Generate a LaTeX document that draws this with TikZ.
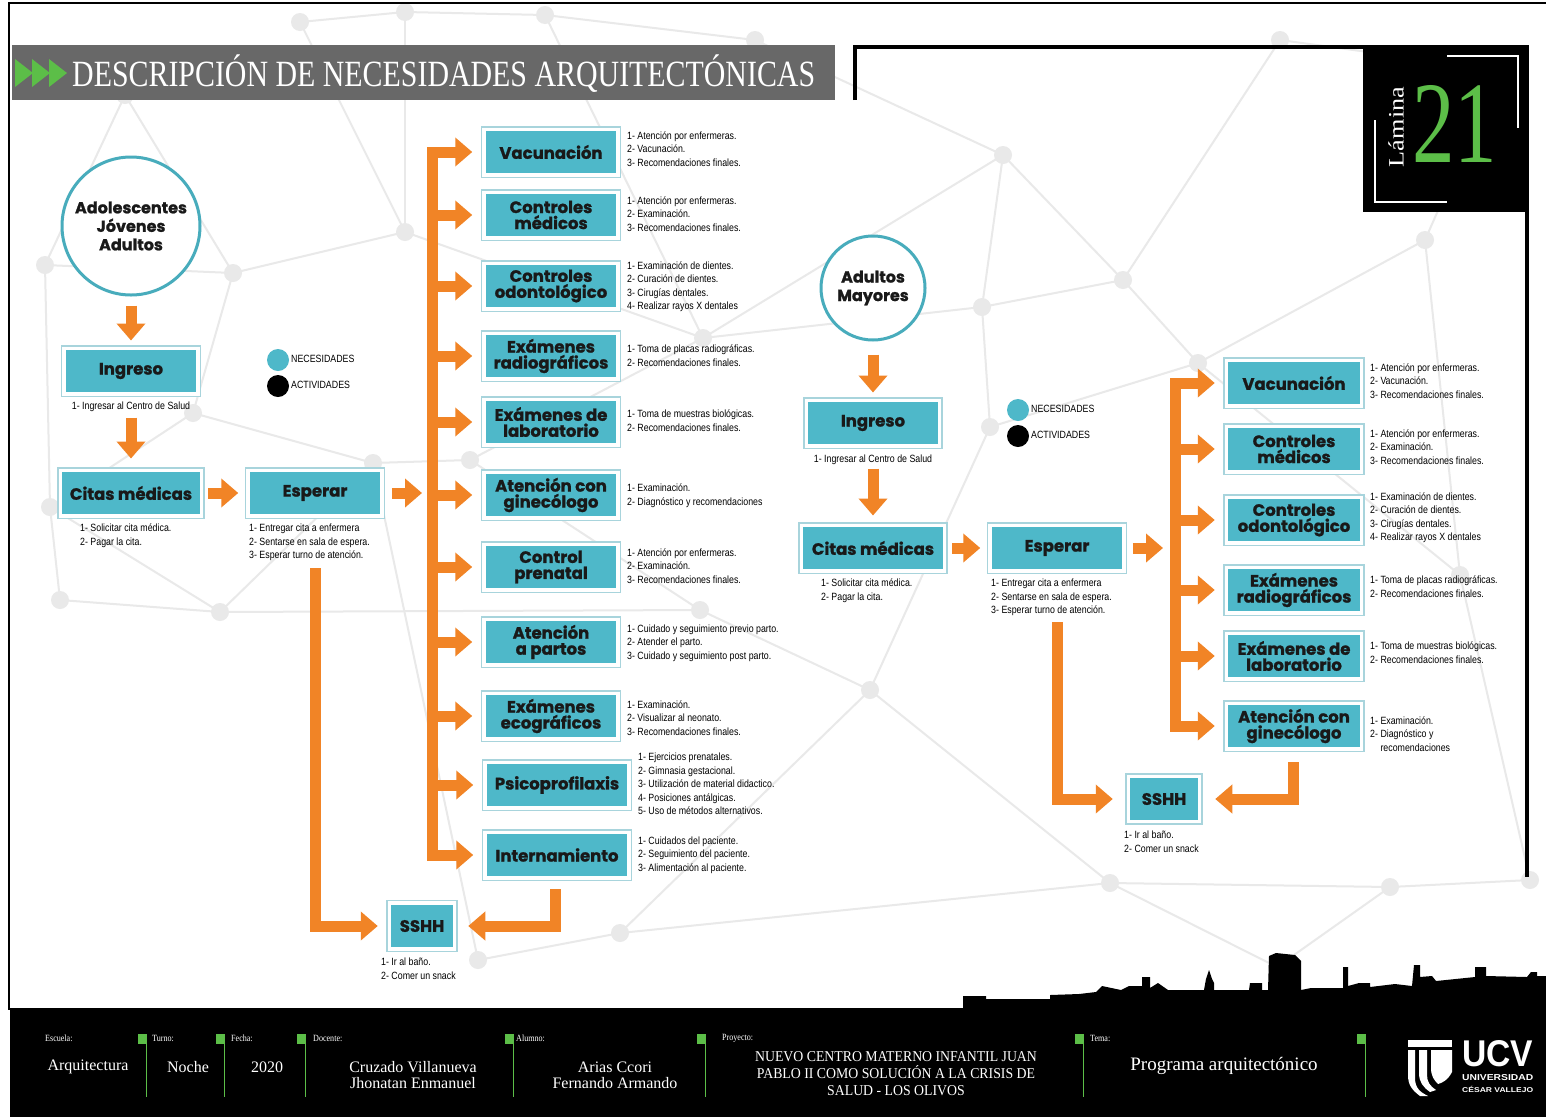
\documentclass[tikz,border=0pt]{standalone}
\usepackage{fontspec}
\usepackage{graphicx}
\setmainfont{Liberation Serif}
\newfontfamily\boxfont{Poppins}[BoldFeatures={FakeBold=1.2}]
\newfontfamily\narrowfont{Liberation Sans}
\usetikzlibrary{arrows.meta}

\definecolor{cteal}{RGB}{78,184,201}
\definecolor{cedge}{RGB}{168,212,220}
\definecolor{corange}{RGB}{241,132,38}
\definecolor{cring}{RGB}{72,172,188}
\definecolor{cgreen}{RGB}{92,190,72}
\definecolor{cnet}{RGB}{233,233,233}
\definecolor{cbar}{RGB}{104,104,104}

% small condensed item lists
\newcommand\items[1]{\scalebox{0.84}[1]{\narrowfont\fontsize{10.5}{13.5}\selectfont\begin{tabular}{@{}l@{}}#1\end{tabular}}}
\newcommand\itemsc[1]{\scalebox{0.84}[1]{\narrowfont\fontsize{10.5}{13.5}\selectfont\begin{tabular}{@{}c@{}}#1\end{tabular}}}
\newcommand\foottag[1]{\scalebox{0.85}[1]{\fontsize{9.5}{9.5}\selectfont #1}}

\tikzset{
  need/.style={rectangle, fill=cteal, draw=white, line width=3.5pt,
    preaction={draw=cedge, line width=6.5pt}, inner sep=0pt,
    minimum height=45.5pt, minimum width=#1, text=black!90,
    font=\boxfont\bfseries\fontsize{16.5}{16}\selectfont, align=center},
  need/.default=134pt,
  who/.style={circle, draw=cring, line width=3pt, fill=white, inner sep=0pt, text=black!90,
    font=\boxfont\bfseries\fontsize{16}{18.5}\selectfont, align=center},
  flow/.style={draw=corange, line width=11pt, -{Triangle[width=28pt,length=17pt]}},
  list/.style={inner sep=0pt, anchor=west},
  listnw/.style={inner sep=0pt, anchor=north west},
  netline/.style={draw=cnet, line width=2pt},
  netdot/.style={fill=cnet},
  dotkey/.style={circle, minimum size=22pt, inner sep=0pt},
}

\begin{document}
\begin{tikzpicture}[x=1pt,y=-1pt]
\useasboundingbox (0,0) rectangle (1546,1117);
\fill[white] (0,0) rectangle (1546,1117);

% ---------- background network ----------
\coordinate (nA) at (45,265);   \coordinate (nB) at (233,273);
\coordinate (nC) at (405,232);  \coordinate (nD) at (193,413);
\coordinate (nE) at (373,463);  \coordinate (nF) at (50,507);
\coordinate (nG) at (220,612);  \coordinate (nH) at (125,95);
\coordinate (nI) at (703,338);  \coordinate (nJ) at (545,15);
\coordinate (nK) at (405,12);   \coordinate (nL) at (300,22);
\coordinate (nM) at (982,307);  \coordinate (nN) at (1123,280);
\coordinate (nO) at (990,427);  \coordinate (nP) at (1198,363);
\coordinate (nQ) at (1003,155); \coordinate (nR) at (620,933);
\coordinate (nS) at (478,960);  \coordinate (nT) at (1110,883);
\coordinate (nU) at (1277,967); \coordinate (nV) at (1390,887);
\coordinate (nW) at (1530,880); \coordinate (nX) at (470,460);
\coordinate (nY) at (1280,40);  \coordinate (nZ) at (1500,70);
\coordinate (nAA) at (1460,575);\coordinate (nBB) at (60,600);
\coordinate (nDD) at (870,690); \coordinate (nEE) at (1425,240);
\coordinate (nFF) at (700,610); \coordinate (nHH) at (755,40);
\foreach \a/\b in {nH/nA,nH/nB,nA/nB,nA/nF,nB/nC,nB/nD,nC/nL,nC/nK,nC/nI,nD/nE,
  nD/nF,nE/nX,nE/nG,nF/nG,nF/nBB,nG/nBB,nX/nI,nI/nJ,nI/nQ,nI/nM,nJ/nK,nK/nL,
  nJ/nHH,nHH/nQ,nQ/nM,nQ/nN,nM/nN,nM/nO,nN/nP,nN/nY,nO/nP,nO/nDD,nP/nEE,nP/nAA,
  nY/nZ,nZ/nEE,nEE/nAA,nAA/nW,nDD/nFF,nFF/nX,nDD/nT,nDD/nR,nR/nS,nR/nT,nT/nU,
  nT/nV,nU/nV,nV/nW,nS/nE,nFF/nG}
  \draw[netline] (\a) -- (\b);
\foreach \p in {nA,nB,nC,nD,nE,nF,nG,nH,nI,nJ,nK,nL,nM,nN,nO,nP,nQ,nR,nS,nT,nU,
  nV,nW,nX,nY,nZ,nAA,nBB,nDD,nEE,nFF,nHH}
  \fill[netdot] (\p) circle (9);

% ---------- page frame ----------
\draw[line width=2.5pt] (1546,3) -- (9,3) -- (9,1010);
\draw[line width=4pt] (855,100) -- (855,47) -- (1527,47) -- (1527,877);

% ---------- title bar ----------
\fill[cbar] (12,45) rectangle (835,100);
\foreach \i in {0,1,2}
  \fill[cgreen] (15+17*\i,59) -- (33+17*\i,73) -- (15+17*\i,87) -- cycle;
\node[anchor=base west, inner sep=0pt, text=white] (title) at (72,86)
  {\resizebox{743pt}{\height}{\fontsize{37}{37}\selectfont DESCRIPCIÓN DE NECESIDADES ARQUITECTÓNICAS}};

% ---------- sheet number ----------
\fill[black] (1363,45) rectangle (1529,212);
\draw[white, line width=1.5pt] (1447,56) -- (1518,56) -- (1518,128);
\draw[white, line width=1.5pt] (1375,120) -- (1375,202) -- (1447,202);
\node[rotate=90, text=white, inner sep=0pt] (lam) at (1396,127)
  {\resizebox{80pt}{\height}{\fontsize{22}{22}\selectfont Lámina}};
\node[anchor=base west, text=cgreen, inner sep=0pt] (num) at (1412,162)
  {\resizebox{85pt}{77pt}{21}};

% ================= left flow =================
\node[who, minimum size=138pt] (c1) at (131,226) {Adolescentes\\Jóvenes\\Adultos};
\node[need] (in1) at (131,371) {Ingreso};
\node[inner sep=0pt] (in1t) at (131,407) {\itemsc{1- Ingresar al Centro de Salud}};
\node[need=141pt] (ci1) at (131,493) {Citas médicas};
\node[listnw] (ci1t) at (80,522) {\items{1- Solicitar cita médica.\\2- Pagar la cita.}};
\node[need] (es1) at (315,493) {Esperar};
\node[listnw] (es1t) at (249,522) {\items{1- Entregar cita a enfermera\\2- Sentarse en sala de espera.\\3- Esperar turno de atención.}};

\node[dotkey, fill=cteal] (k1) at (278,360) {};
\node[list] (k1t) at (291,360) {\items{NECESIDADES}};
\node[dotkey, fill=black] (k2) at (278,386) {};
\node[list] (k2t) at (291,386) {\items{ACTIVIDADES}};

% middle column of needs
\node[need] (m1) at (551,152) {Vacunación};
\node[need] (m2) at (551,215) {Controles\\médicos};
\node[need] (m3) at (551,286) {Controles\\odontológico};
\node[need] (m4) at (551,356) {Exámenes\\radiográficos};
\node[need] (m5) at (551,422) {Exámenes de\\laboratorio};
\node[need] (m6) at (551,495) {Atención con\\ginecólogo};
\node[need] (m7) at (551,567) {Control\\prenatal};
\node[need] (m8) at (551,642) {Atención\\a partos};
\node[need] (m9) at (551,716) {Exámenes\\ecográficos};
\node[need=144pt] (m10) at (557,785) {Psicoprofilaxis};
\node[need=144pt] (m11) at (557,855) {Internamiento};

\node[list] (m1t) at (627,150) {\items{1- Atención por enfermeras.\\2- Vacunación.\\3- Recomendaciones finales.}};
\node[list] (m2t) at (627,215) {\items{1- Atención por enfermeras.\\2- Examinación.\\3- Recomendaciones finales.}};
\node[list] (m3t) at (627,287) {\items{1- Examinación de dientes.\\2- Curación de dientes.\\3- Cirugías dentales.\\4- Realizar rayos X dentales}};
\node[list] (m4t) at (627,357) {\items{1- Toma de placas radiográficas.\\2- Recomendaciones finales.}};
\node[list] (m5t) at (627,422) {\items{1- Toma de muestras biológicas.\\2- Recomendaciones finales.}};
\node[list] (m6t) at (627,496) {\items{1- Examinación.\\2- Diagnóstico y recomendaciones}};
\node[list] (m7t) at (627,567) {\items{1- Atención por enfermeras.\\2- Examinación.\\3- Recomendaciones finales.}};
\node[list] (m8t) at (627,643) {\items{1- Cuidado y seguimiento previo parto.\\2- Atender el parto.\\3- Cuidado y seguimiento post parto.}};
\node[list] (m9t) at (627,719) {\items{1- Examinación.\\2- Visualizar al neonato.\\3- Recomendaciones finales.}};
\node[list] (m10t) at (638,785) {\items{1- Ejercicios prenatales.\\2- Gimnasia gestacional.\\3- Utilización de material didactico.\\4- Posiciones antálgicas.\\5- Uso de métodos alternativos.}};
\node[list] (m11t) at (638,855) {\items{1- Cuidados del paciente.\\2- Seguimiento del paciente.\\3- Alimentación al paciente.}};

\node[need=65pt, minimum height=46pt] (s1) at (422,926) {SSHH};
\node[listnw] (s1t) at (381,956) {\items{1- Ir al baño.\\2- Comer un snack}};

% connectors, left flow
\coordinate (mtop) at (432,152);
\coordinate (mbot) at (432,855);
\draw[flow, shorten <=9pt, shorten >=6pt] (c1) -- (in1);
\draw[flow, shorten <=22pt, shorten >=10pt] (in1) -- (ci1);
\draw[flow, shorten <=5pt, shorten >=8pt] (ci1) -- (es1);
\draw[flow, shorten <=8pt, shorten >=10pt] (es1) -- (mtop |- es1);
\draw[flow, shorten >=10pt] (mbot) -- (mtop) -- (m1);
\draw[flow, shorten >=10pt] (mtop) -- (mbot) -- (m11);
\foreach \m in {m2,m3,m4,m5,m6,m7,m8,m9,m10}
  \draw[flow, shorten >=10pt] (mtop |- \m) -- (\m);
\coordinate (e1d) at (315,568);
\coordinate (i1d) at (555,889);
\draw[flow, shorten >=10pt] (e1d) -- (e1d |- s1) -- (s1);
\draw[flow, shorten >=12pt] (i1d) -- (i1d |- s1) -- (s1);

% ================= right flow =================
\node[who, minimum size=104pt] (c2) at (873,288) {Adultos\\Mayores};
\node[need=133pt] (in2) at (873,423) {Ingreso};
\node[inner sep=0pt] (in2t) at (873,460) {\itemsc{1- Ingresar al Centro de Salud}};
\node[need=143pt] (ci2) at (873,548) {Citas médicas};
\node[listnw] (ci2t) at (821,577) {\items{1- Solicitar cita médica.\\2- Pagar la cita.}};
\node[need] (es2) at (1057,548) {Esperar};
\node[listnw] (es2t) at (991,577) {\items{1- Entregar cita a enfermera\\2- Sentarse en sala de espera.\\3- Esperar turno de atención.}};

\node[dotkey, fill=cteal] (k3) at (1018,410) {};
\node[list] (k3t) at (1031,410) {\items{NECESIDADES}};
\node[dotkey, fill=black] (k4) at (1018,436) {};
\node[list] (k4t) at (1031,436) {\items{ACTIVIDADES}};

\node[need=135pt] (r1) at (1294,383) {Vacunación};
\node[need=135pt] (r2) at (1294,449) {Controles\\médicos};
\node[need=135pt] (r3) at (1294,520) {Controles\\odontológico};
\node[need=135pt] (r4) at (1294,590) {Exámenes\\radiográficos};
\node[need=135pt] (r5) at (1294,656) {Exámenes de\\laboratorio};
\node[need=135pt] (r6) at (1294,726) {Atención con\\ginecólogo};

\node[list] (r1t) at (1370,382) {\items{1- Atención por enfermeras.\\2- Vacunación.\\3- Recomendaciones finales.}};
\node[list] (r2t) at (1370,448) {\items{1- Atención por enfermeras.\\2- Examinación.\\3- Recomendaciones finales.}};
\node[list] (r3t) at (1370,518) {\items{1- Examinación de dientes.\\2- Curación de dientes.\\3- Cirugías dentales.\\4- Realizar rayos X dentales}};
\node[list] (r4t) at (1370,588) {\items{1- Toma de placas radiográficas.\\2- Recomendaciones finales.}};
\node[list] (r5t) at (1370,654) {\items{1- Toma de muestras biológicas.\\2- Recomendaciones finales.}};
\node[list] (r6t) at (1370,735) {\items{1- Examinación.\\2- Diagnóstico y\\\phantom{2- }recomendaciones}};

\node[need=71pt, minimum height=45pt] (s2) at (1164,799) {SSHH};
\node[listnw] (s2t) at (1124,829) {\items{1- Ir al baño.\\2- Comer un snack}};

% connectors, right flow
\coordinate (rtop) at (1175,383);
\coordinate (rbot) at (1175,726);
\draw[flow, shorten <=13pt, shorten >=6pt] (c2) -- (in2);
\draw[flow, shorten <=21pt, shorten >=8pt] (in2) -- (ci2);
\draw[flow, shorten <=6pt, shorten >=8pt] (ci2) -- (es2);
\draw[flow, shorten <=7pt, shorten >=12pt] (es2) -- (rtop |- es2);
\draw[flow, shorten >=10pt] (rbot) -- (rtop) -- (r1);
\draw[flow, shorten >=10pt] (rtop) -- (rbot) -- (r6);
\foreach \r in {r2,r3,r4,r5}
  \draw[flow, shorten >=10pt] (rtop |- \r) -- (\r);
\coordinate (e2d) at (1057,622);
\coordinate (g2d) at (1293,762);
\draw[flow, shorten >=14pt] (e2d) -- (e2d |- s2) -- (s2);
\draw[flow, shorten >=14pt] (g2d) -- (g2d |- s2) -- (s2);

% ---------- skyline ----------
\fill[black] (963,1010) -- (963,996) -- (986,996) -- (986,999) -- (1050,999) -- (1050,995)
  -- (1079,994) -- (1096,992) -- (1102,986) -- (1121,990) -- (1129,986) -- (1142,986)
  -- (1142,977) -- (1150,977) -- (1150,988) -- (1158,983) -- (1168,990) -- (1204,990)
  -- (1206,979) -- (1209,970) -- (1212,979) -- (1214,983) -- (1214,990) -- (1249,990)
  -- (1250,983) -- (1262,983) -- (1262,990) -- (1268,990) -- (1269,956) -- (1276,953)
  -- (1295,955) -- (1301,961) -- (1301,990) -- (1311,988) -- (1343,988) -- (1343,967)
  -- (1348,967) -- (1348,986) -- (1359,983) -- (1370,983) -- (1370,987) -- (1395,984)
  -- (1412,986) -- (1414,965) -- (1420,965) -- (1420,977) -- (1432,976) -- (1436,981)
  -- (1475,977) -- (1475,967) -- (1486,967) -- (1486,976) -- (1527,977) -- (1531,972)
  -- (1537,972) -- (1537,976) -- (1546,976) -- (1546,1010) -- cycle;

% ---------- footer ----------
\fill[black] (10,1008) rectangle (1546,1117);
\foreach \x in {138,216,297,505,697,1075,1357}{
  \fill[cgreen] (\x,1034) rectangle (\x+9,1044);
  \draw[cgreen, line width=1pt] (\x+8.5,1044) -- (\x+8.5,1097);
}
\node[anchor=west, inner sep=0pt, text=white] (f1) at (45,1038) {\foottag{Escuela:}};
\node[anchor=west, inner sep=0pt, text=white] (f2) at (152,1038) {\foottag{Turno:}};
\node[anchor=west, inner sep=0pt, text=white] (f3) at (231,1038) {\foottag{Fecha:}};
\node[anchor=west, inner sep=0pt, text=white] (f4) at (313,1038) {\foottag{Docente:}};
\node[anchor=west, inner sep=0pt, text=white] (f5) at (516,1038) {\foottag{Alumno:}};
\node[anchor=west, inner sep=0pt, text=white] (f6) at (722,1038) {\foottag{Proyecto:}};
\node[anchor=west, inner sep=0pt, text=white] (f7) at (1090,1038) {\foottag{Tema:}};

\tikzset{footval/.style={inner sep=0pt, text=white, align=center, font=\fontsize{16}{16}\selectfont}}
\node[footval] (v1) at (88,1067) {Arquitectura};
\node[footval] (v2) at (188,1067) {Noche};
\node[footval] (v3) at (267,1067) {2020};
\node[footval] (v4) at (413,1075) {Cruzado Villanueva\\Jhonatan Enmanuel};
\node[footval] (v5) at (615,1075) {Arias Ccori\\Fernando Armando};
\node[footval] (v6) at (896,1075) {\scalebox{0.92}[1]{\fontsize{15}{16.5}\selectfont\begin{tabular}{@{}c@{}}NUEVO CENTRO MATERNO INFANTIL JUAN\\PABLO II COMO SOLUCIÓN A LA CRISIS DE\\SALUD - LOS OLIVOS\end{tabular}}};
\node[footval, font=\fontsize{19}{19}\selectfont] (v7) at (1224,1066) {Programa arquitectónico};

% university mark
\fill[white] (1408,1040) rectangle (1452,1047);
\fill[white] (1408,1050) -- (1415,1050) -- (1415,1078) .. controls (1415,1088) and (1420,1092) .. (1428,1096)
  -- (1420,1096) .. controls (1412,1090) and (1408,1085) .. (1408,1075) -- cycle;
\fill[white] (1419,1050) -- (1427,1050) -- (1427,1075) .. controls (1427,1082) and (1430,1086) .. (1436,1090)
  -- (1430,1092) .. controls (1423,1087) and (1419,1082) .. (1419,1073) -- cycle;
\fill[white] (1431,1050) -- (1452,1050) -- (1452,1072) .. controls (1448,1080) and (1442,1083) .. (1438,1084)
  .. controls (1434,1080) and (1431,1076) .. (1431,1068) -- cycle;
\node[anchor=north west, inner sep=0pt, text=white] (ucv) at (1462,1040)
  {\resizebox{71pt}{26pt}{\narrowfont\bfseries UCV}};
\node[anchor=base west, inner sep=0pt, text=white] (ucv2) at (1462,1080)
  {\resizebox{71pt}{6pt}{\narrowfont\bfseries UNIVERSIDAD}};
\node[anchor=base west, inner sep=0pt, text=white] (ucv3) at (1462,1092)
  {\resizebox{71pt}{\height}{\narrowfont\bfseries\fontsize{7}{7}\selectfont CÉSAR VALLEJO}};
\end{tikzpicture}
\end{document}
